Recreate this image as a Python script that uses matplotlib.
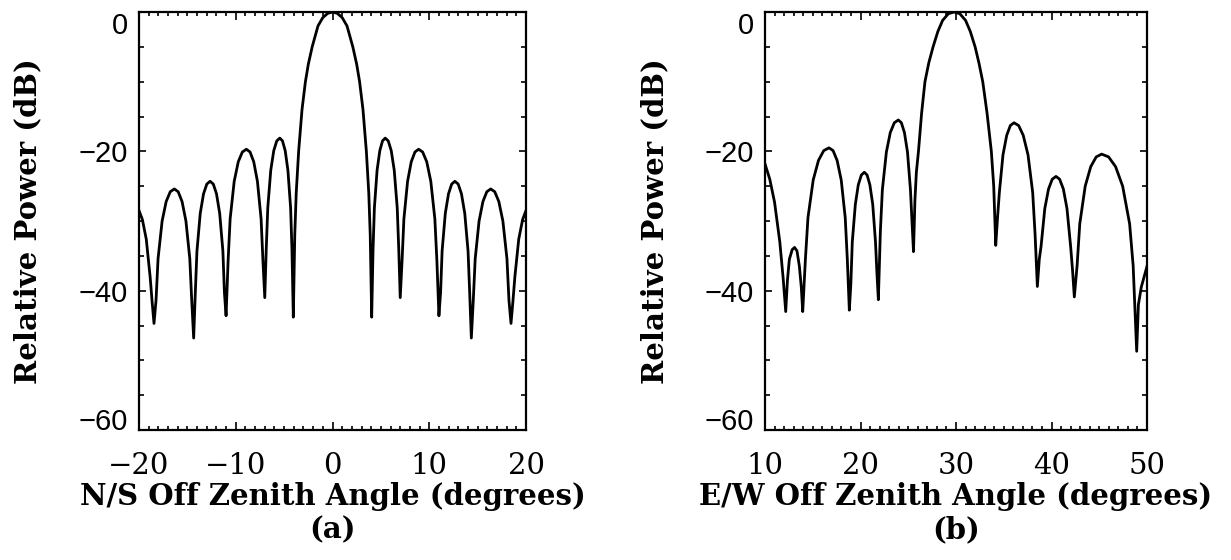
import matplotlib
matplotlib.use("Agg")
import matplotlib.pyplot as plt
from matplotlib.ticker import MultipleLocator

# ---------------- data ----------------
ns_angle = [-20.0, -19.65, -19.25, -18.85, -18.65, -18.45,
            -18.24, -18.03, -17.61, -17.19, -16.77, -16.35, -15.95, -15.55, -15.15, -14.75, -14.55, -14.35,
            -14.18, -14.01, -13.67, -13.33, -12.99, -12.65, -12.32, -11.99, -11.66, -11.33, -11.17, -11.0,
            -10.79, -10.58, -10.16, -9.74, -9.32, -8.9, -8.52, -8.14, -7.76, -7.38, -7.19, -7.0,
            -6.85, -6.69, -6.38, -6.07, -5.76, -5.45, -5.17, -4.89, -4.61, -4.33, -4.19, -4.05,
            -3.9, -3.75, -3.5, -3.15, -2.8, -2.5, -2.1, -1.5, -1.0, -0.5, 0.0,
            0.5, 1.0, 1.5, 2.1, 2.5, 2.8, 3.15, 3.5, 3.75, 3.9, 4.05,
            4.19, 4.33, 4.61, 4.89, 5.17, 5.45, 5.76, 6.07, 6.38, 6.69, 6.85, 7.0,
            7.19, 7.38, 7.76, 8.14, 8.52, 8.9, 9.32, 9.74, 10.16, 10.58, 10.79, 11.0,
            11.17, 11.33, 11.66, 11.99, 12.32, 12.65, 12.99, 13.33, 13.67, 14.01, 14.18, 14.35,
            14.55, 14.75, 15.15, 15.55, 15.95, 16.35, 16.77, 17.19, 17.61, 18.03, 18.24, 18.45,
            18.65, 18.85, 19.25, 19.65, 20.0]
ns_power = [-28.5, -29.8, -32.6, -38.0, -41.5, -44.7,
            -41.4, -35.4, -30.0, -27.2, -25.8, -25.4, -25.8, -27.2, -30.0, -35.4, -41.4, -46.8,
            -40.3, -34.3, -28.9, -26.1, -24.7, -24.3, -24.7, -26.1, -28.9, -34.3, -40.3, -43.6,
            -35.7, -29.7, -24.3, -21.5, -20.1, -19.7, -20.1, -21.5, -24.3, -29.7, -35.7, -41.0,
            -34.1, -28.1, -22.7, -19.9, -18.5, -18.1, -18.5, -19.9, -22.7, -28.1, -34.1, -43.8,
            -32.0, -26.0, -20.0, -14.0, -10.0, -7.5, -5.0, -2.0, -0.8, -0.2, 0.0,
            -0.2, -0.8, -2.0, -5.0, -7.5, -10.0, -14.0, -20.0, -26.0, -32.0, -43.8,
            -34.1, -28.1, -22.7, -19.9, -18.5, -18.1, -18.5, -19.9, -22.7, -28.1, -34.1, -41.0,
            -35.7, -29.7, -24.3, -21.5, -20.1, -19.7, -20.1, -21.5, -24.3, -29.7, -35.7, -43.6,
            -40.3, -34.3, -28.9, -26.1, -24.7, -24.3, -24.7, -26.1, -28.9, -34.3, -40.3, -46.8,
            -41.4, -35.4, -30.0, -27.2, -25.8, -25.4, -25.8, -27.2, -30.0, -35.4, -41.4, -44.7,
            -41.5, -38.0, -32.6, -29.8, -28.5]

ew_angle = [10.0, 10.5, 11.0, 11.55, 11.9, 12.17,
            12.35, 12.55, 12.85, 13.1, 13.35, 13.6, 13.8, 13.95,
            14.23, 14.5, 15.05, 15.6, 16.15, 16.7, 17.13, 17.55, 17.98, 18.4, 18.62, 18.83,
            18.99, 19.14, 19.46, 19.77, 20.09, 20.4, 20.69, 20.98, 21.28, 21.57, 21.72, 21.87,
            22.08, 22.29, 22.71, 23.12, 23.54, 23.96, 24.28, 24.6, 24.92, 25.23, 25.39, 25.55,
            25.7, 25.85, 26.07, 26.4, 26.75, 27.15, 27.6, 28.1, 28.6, 29.2, 29.8,
            30.4, 31.0, 31.5, 32.0, 32.4, 32.8, 33.25, 33.7, 33.95, 34.16,
            34.35, 34.54, 34.92, 35.31, 35.69, 36.07, 36.56, 37.04, 37.54, 38.03, 38.28, 38.52,
            38.72, 38.91, 39.3, 39.69, 40.08, 40.47, 40.85, 41.24, 41.62, 42.0, 42.2, 42.39,
            42.68, 42.96, 43.53, 44.11, 44.68, 45.25, 45.98, 46.71, 47.45, 48.18, 48.55, 48.92,
            49.1, 49.4, 49.7, 50.0]
ew_power = [-21.8, -24.0, -27.3, -33.0, -38.2, -43.0,
            -38.5, -35.5, -34.1, -33.8, -34.3, -36.5, -39.5, -43.0,
            -35.5, -29.5, -24.1, -21.3, -19.9, -19.5, -19.9, -21.3, -24.1, -29.5, -35.5, -42.8,
            -39.0, -33.0, -27.6, -24.8, -23.4, -23.0, -23.4, -24.8, -27.6, -33.0, -37.5, -41.3,
            -31.5, -25.5, -20.1, -17.3, -15.9, -15.5, -15.9, -17.3, -20.1, -25.5, -30.0, -34.4,
            -27.0, -23.0, -20.0, -14.5, -10.0, -7.3, -5.0, -2.8, -1.2, -0.25, 0.0,
            -0.25, -1.2, -2.8, -5.0, -7.3, -10.0, -14.5, -20.0, -25.0, -33.5,
            -29.5, -25.9, -20.5, -17.7, -16.3, -15.9, -16.3, -17.7, -20.5, -25.9, -31.9, -39.4,
            -35.5, -33.6, -28.2, -25.4, -24.0, -23.6, -24.0, -25.4, -28.2, -33.6, -37.0, -40.9,
            -36.4, -30.4, -25.0, -22.2, -20.8, -20.4, -20.8, -22.2, -25.0, -30.4, -36.4, -48.7,
            -42.0, -39.5, -38.0, -36.5]

ns_xticks = [-20, -10, 0, 10, 20]
ew_xticks = [10, 20, 30, 40, 50]
power_ticks = [-60, -40, -20, 0]
ns_xlabel = "N/S Off Zenith Angle (degrees)"
ew_xlabel = "E/W Off Zenith Angle (degrees)"
power_label = "Relative Power (dB)"
panel_tags = ["(a)", "(b)"]

# ---------------- drawing ----------------
W, H = 1231, 560
fig = plt.figure(figsize=(W / 100, H / 100), dpi=100)
fig.patch.set_facecolor("white")

serif = ["DejaVu Serif"]
sans = ["Liberation Sans", "DejaVu Sans"]


def fmt(v):
    return str(v).replace("-", "\u2212")


def panel(rect, xs, ys, xticks, xlabel, tag, ylab_x):
    ax = fig.add_axes(rect)
    ax.plot(xs, ys, color="black", lw=2.0, solid_joinstyle="round")
    ax.set_xlim(xticks[0], xticks[-1])
    ax.set_ylim(-60, 0)
    ax.set_xticks(xticks, labels=[fmt(t) for t in xticks],
                  fontfamily=serif, fontsize=21)
    ax.set_yticks(power_ticks, labels=[fmt(t) for t in power_ticks],
                  fontfamily=sans, fontsize=21)
    ax.xaxis.set_minor_locator(MultipleLocator(1))
    ax.yaxis.set_minor_locator(MultipleLocator(5))
    ax.tick_params(which="both", direction="in", top=True, right=True,
                   width=1.2, colors="black")
    ax.tick_params(axis="x", which="major", length=6, pad=16)
    ax.tick_params(axis="x", which="minor", length=3)
    ax.tick_params(axis="y", which="major", length=5, pad=8)
    ax.tick_params(axis="y", which="minor", length=3.5)
    for sp in ax.spines.values():
        sp.set_linewidth(1.6)
    for lab in ax.get_yticklabels():
        if lab.get_text() == "0":
            lab.set_va("top")
        elif lab.get_text() == "\u221260":
            lab.set_va("baseline")
    ax.set_xlabel(xlabel, fontfamily=serif, fontsize=21, fontweight="bold",
                  va="center")
    ax.xaxis.set_label_coords(0.5, -0.160)
    ax.set_ylabel(power_label, fontfamily=serif, fontsize=21,
                  fontweight="bold", va="center")
    ax.yaxis.set_label_coords(ylab_x, 0.5)
    ax.text(0.5, -0.239, tag, transform=ax.transAxes, ha="center",
            va="center", fontfamily=serif, fontsize=21, fontweight="bold")
    return ax


panel([139 / W, 130 / H, 387 / W, 418 / H], ns_angle, ns_power, ns_xticks,
      ns_xlabel, panel_tags[0], (28 - 139) / 387)
panel([765 / W, 130 / H, 382 / W, 418 / H], ew_angle, ew_power, ew_xticks,
      ew_xlabel, panel_tags[1], (655 - 765) / 382)

fig.savefig("out.png", dpi=100, facecolor="white")
